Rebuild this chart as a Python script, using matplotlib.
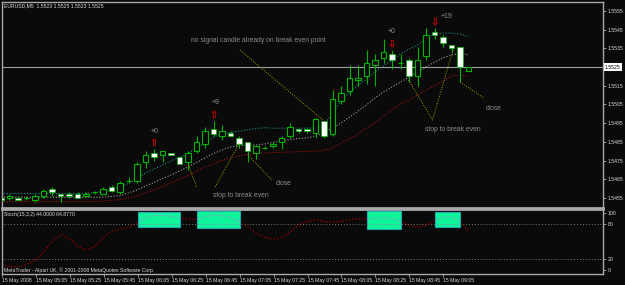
import matplotlib
matplotlib.use("Agg")
import matplotlib.pyplot as plt
from matplotlib.patches import Rectangle
from matplotlib.transforms import blended_transform_factory
import numpy as np

plt.rcParams['font.family'] = ['Liberation Sans', 'DejaVu Sans']

# ---------------- data ----------------
opens = [1.5455, 1.5455, 1.5455, 1.5455, 1.5454, 1.5456, 1.5460, 1.5457, 1.5457, 1.5457,
         1.5456, 1.5458, 1.5457, 1.5461, 1.5458, 1.5464, 1.5464, 1.5474, 1.5479, 1.5478,
         1.5479, 1.5477, 1.5474, 1.5480, 1.5484, 1.5492, 1.5488, 1.5490, 1.5487, 1.5485,
         1.5479, 1.5482, 1.5483, 1.5485, 1.5488, 1.5492, 1.5492, 1.5490, 1.5496, 1.5489,
         1.5507, 1.5512, 1.5518, 1.5520, 1.5526, 1.5530, 1.5532, 1.5527, 1.5529, 1.5520,
         1.5531, 1.5544, 1.5541, 1.5537, 1.5536, 1.5523]
highs = [1.5456, 1.5457, 1.5456, 1.5456, 1.5457, 1.5460, 1.5461, 1.5457, 1.5458, 1.5458,
         1.5458, 1.5459, 1.5461, 1.5462, 1.5464, 1.5466, 1.5474, 1.5480, 1.5481, 1.5480,
         1.5479, 1.5477, 1.5480, 1.5488, 1.5493, 1.5496, 1.5494, 1.5491, 1.5488, 1.5485,
         1.5483, 1.5483, 1.5485, 1.5488, 1.5495, 1.5492, 1.5492, 1.5498, 1.5496, 1.5513,
         1.5515, 1.5526, 1.5526, 1.5534, 1.5532, 1.5540, 1.5534, 1.5532, 1.5530, 1.5536,
         1.5546, 1.5546, 1.5542, 1.5537, 1.5536, 1.5525]
lows = [1.5453, 1.5454, 1.5454, 1.5454, 1.5453, 1.5455, 1.5456, 1.5453, 1.5455, 1.5455,
        1.5456, 1.5457, 1.5457, 1.5458, 1.5457, 1.5463, 1.5463, 1.5471, 1.5475, 1.5474,
        1.5478, 1.5473, 1.5470, 1.5479, 1.5482, 1.5488, 1.5486, 1.5488, 1.5482, 1.5474,
        1.5476, 1.5481, 1.5482, 1.5481, 1.5487, 1.5490, 1.5490, 1.5487, 1.5487, 1.5488,
        1.5505, 1.5510, 1.5515, 1.5516, 1.5515, 1.5527, 1.5524, 1.5524, 1.5517, 1.5515,
        1.5529, 1.5540, 1.5536, 1.5533, 1.5517, 1.5523]
closes = [1.5454, 1.5456, 1.5454, 1.5455, 1.5456, 1.5459, 1.5458, 1.5456, 1.5456, 1.5455,
          1.5457, 1.5458, 1.5460, 1.5459, 1.5463, 1.5464, 1.5473, 1.5478, 1.5477, 1.5480,
          1.5478, 1.5473, 1.5479, 1.5485, 1.5491, 1.5489, 1.5491, 1.5488, 1.5484, 1.5480,
          1.5483, 1.5482, 1.5484, 1.5487, 1.5493, 1.5491, 1.5491, 1.5497, 1.5488, 1.5508,
          1.5511, 1.5519, 1.5519, 1.5527, 1.5529, 1.5533, 1.5529, 1.5527, 1.5520, 1.5529,
          1.5542, 1.5542, 1.5538, 1.5535, 1.5525, 1.5525]

ma_upper = [1.54574] * 10 + [1.54575, 1.54577,
            1.54585, 1.54593, 1.54609, 1.54628, 1.54654, 1.54684, 1.54705, 1.54726,
            1.54748, 1.54769, 1.54789, 1.54815, 1.54844, 1.54876, 1.54892, 1.54901,
            1.54908, 1.54914, 1.54922, 1.54926, 1.54923, 1.54923, 1.54923, 1.54923,
            1.54923, 1.54927, 1.54940, 1.55005, 1.55069, 1.55117, 1.55154, 1.55186,
            1.55224, 1.55256, 1.55288, 1.55320, 1.55347, 1.55368, 1.55400, 1.55427,
            1.55432, 1.55432, 1.55427, 1.55414]
ma_mid = [1.54554] * 12 + [
            1.54555, 1.54558, 1.54563, 1.54577, 1.54593, 1.54614, 1.54633, 1.54654,
            1.54673, 1.54694, 1.54716, 1.54740, 1.54764, 1.54788, 1.54807, 1.54823,
            1.54831, 1.54833, 1.54833, 1.54839, 1.54847, 1.54855, 1.54863, 1.54868,
            1.54871, 1.54882, 1.54898, 1.54924, 1.54951, 1.54983, 1.55015, 1.55047,
            1.55085, 1.55117, 1.55144, 1.55170, 1.55197, 1.55224, 1.55251, 1.55277,
            1.55299, 1.55315, 1.55323, 1.55315]
ma_lower = [1.54531] * 12 + [
            1.54534, 1.54537, 1.54542, 1.54550, 1.54561, 1.54577, 1.54593, 1.54611,
            1.54630, 1.54652, 1.54670, 1.54694, 1.54716, 1.54734, 1.54751, 1.54764,
            1.54775, 1.54783, 1.54788, 1.54791, 1.54793, 1.54794, 1.54796, 1.54798,
            1.54799, 1.54801, 1.54804, 1.54817, 1.54844, 1.54866, 1.54892, 1.54924,
            1.54951, 1.54989, 1.55021, 1.55053, 1.55074, 1.55101, 1.55128, 1.55149,
            1.55176, 1.55202, 1.55208, 1.55200]

stoch = [10, 5, 6, 11, 17, 33, 52, 62, 54, 41, 35, 42, 58, 68, 72, 75, 84, 92, 96, 96,
         94, 91, 89, 89, 94, 96, 95, 92, 84, 75, 64, 57, 54, 57, 67, 80, 85, 88, 85, 84,
         85, 89, 90, 89, 91, 92, 91, 85, 78, 75, 79, 86, 93, 93, 85, 66]

stoch_boxes = [(16, 21, 75.4, 102.3), (23, 28, 74.2, 104.0),
               (43, 47, 71.9, 103.5), (51, 54, 76.0, 102.3)]

time_labels = ["15 May 2008", "15 May 05:05", "15 May 05:25", "15 May 05:45",
               "15 May 06:05", "15 May 06:25", "15 May 06:45", "15 May 07:05",
               "15 May 07:25", "15 May 07:45", "15 May 08:05", "15 May 08:25",
               "15 May 08:45", "15 May 09:05"]
time_ticks = list(range(0, 56, 4))

price_ticks = [1.5455, 1.5465, 1.5475, 1.5485, 1.5495, 1.5505, 1.5515, 1.5535, 1.5545, 1.5555]
bid_price = 1.5525

# signal arrows: (bar, price, glyph), profit labels: (bar, price, text)
arrows = [(18, 1.54846, '\u21e7'), (25, 1.54994, '\u21e7'),
          (46, 1.55377, '\u21e9'), (51, 1.55493, '\u21e9')]
profit_labels = [(18.1, 1.54905, '+0'), (25.2, 1.55058, '+9'),
                 (46.0, 1.55438, '+0'), (52.4, 1.55520, '+19')]

# annotation trend lines (bar, price) sequences
notes_lines = [
    [(22.04, 1.54726), (23.02, 1.54609)],
    [(25.18, 1.54609), (28.06, 1.54844)],
    [(29.06, 1.54780), (31.88, 1.54646)],
    [(28.12, 1.55341), (37.88, 1.54967)],
    [(47.94, 1.55181), (50.76, 1.54967), (53.18, 1.55341)],
    [(54.00, 1.55170), (56.82, 1.55085)],
]
notes_text = [
    (22.3, 1.55391, "no signal candle already on break even point"),
    (24.94, 1.54562, "stop to break even"),
    (32.35, 1.54629, "close"),
    (49.88, 1.54917, "stop to break even"),
    (57.0, 1.55030, "close"),
]

# ---------------- style ----------------
BG = '#0a0a0a'
GREEN = '#00b400'
FRAME = '#a8a8a8'
TXT = '#d8d8d8'
NOTE = '#8c8c8c'
FS = 3.7

fig = plt.figure(figsize=(6.25, 2.85), dpi=100, facecolor=BG)
ax = fig.add_axes([2/625, 1-208/285, 601/625, 206/285], facecolor=BG)
ax2 = fig.add_axes([2/625, 1-274/285, 601/625, 65/285], facecolor=BG)

for a in (ax, ax2):
    for s in a.spines.values():
        s.set_color(FRAME)
        s.set_linewidth(1.0)
    a.set_xlim(0.118, 70.82)
ax.spines['bottom'].set_linewidth(2.0)
ax2.spines['top'].set_linewidth(2.0)

idx = np.arange(len(opens))
o = np.array(opens); h = np.array(highs); l = np.array(lows); c = np.array(closes)

# moving-average lines
dots = (0, (1, 1.6))
ax.plot(idx, ma_upper, color='#1f8c8c', lw=0.8, linestyle=dots, zorder=2)
ax.plot(idx, ma_mid, color='#a0a0a0', lw=0.8, linestyle=dots, zorder=2)
ax.plot(idx, ma_lower, color='#a01010', lw=0.8, linestyle=dots, zorder=2)

# bid line
ax.axhline(bid_price, color='#a0a0a0', lw=0.8, zorder=1)

# candles
ax.vlines(idx, l, h, color=GREEN, lw=0.8, zorder=3)
bull = c >= o
body_bottom = np.minimum(o, c)
body_h = np.abs(c - o)
ax.bar(idx[bull], body_h[bull], bottom=body_bottom[bull], width=0.62,
       color=BG, edgecolor=GREEN, linewidth=0.8, zorder=4)
ax.bar(idx[~bull], body_h[~bull], bottom=body_bottom[~bull], width=0.62,
       color='white', edgecolor=GREEN, linewidth=0.5, zorder=4)

# annotation lines
for seg in notes_lines:
    xs = [p[0] for p in seg]; ys = [p[1] for p in seg]
    ax.plot(xs, ys, color='#a0a000', lw=0.7, linestyle=(0, (1, 1.5)), zorder=5)
for x, y, t in notes_text:
    ax.text(x, y, t, color=NOTE, fontsize=4.9, ha='left', va='center', zorder=6)
for x, y, g in arrows:
    ax.text(x, y, g, color='#e00000', fontsize=7.5, ha='center', va='center',
            family='DejaVu Sans', fontweight='bold', zorder=6)
for x, y, t in profit_labels:
    ax.text(x, y, t, color=NOTE, fontsize=5, ha='center', va='center', zorder=6)

ax.set_ylim(1.544965, 1.555981)
ax.set_xticks([])
ax.yaxis.tick_right()
ax.set_yticks(price_ticks)
ax.set_yticklabels([f"{p:.4f}" for p in price_ticks])
ax.tick_params(axis='y', colors=TXT, labelsize=FS, length=2, pad=1.5, width=0.6)
ax.tick_params(axis='y', color=FRAME)

tr = blended_transform_factory(ax.transAxes, ax.transData)
ax.text(1.003, bid_price, f"{bid_price:.4f}", transform=tr, ha='left', va='center',
        fontsize=FS, color='black', clip_on=False,
        bbox=dict(boxstyle='square,pad=0.25', fc='white', ec='none'))

ax.text(0.003, 0.982, "EURUSD,M5  1.5523 1.5525 1.5523 1.5525", transform=ax.transAxes,
        color=TXT, fontsize=FS, ha='left', va='center')

# ---------------- stochastic panel ----------------
ax2.set_ylim(-7, 107)
for lev in (80, 20):
    ax2.axhline(lev, color='#7a7a7a', lw=0.7, linestyle=(0, (1, 2)), zorder=1)
ax2.plot(idx, stoch, color='#a00000', lw=0.9, linestyle=dots, zorder=2)
for x0, x1, y0, y1 in stoch_boxes:
    r = Rectangle((x0, y0), x1 - x0, y1 - y0, facecolor='#10f59c', edgecolor='#20a8b0',
                  lw=0.8, zorder=3)
    ax2.add_patch(r)
    ln, = ax2.plot(idx, stoch, color='#a080d0', lw=0.8, linestyle=dots, zorder=4)
    ln.set_clip_path(r)
    lv = ax2.axhline(80, color='#8080a0', lw=0.7, linestyle=(0, (1, 2)), zorder=4)
    lv.set_clip_path(r)

ax2.yaxis.tick_right()
ax2.set_yticks([0, 20, 80, 100])
ax2.set_yticklabels(['0', '20', '80', '100'])
ax2.tick_params(axis='y', colors=TXT, labelsize=FS, length=2, pad=1.5, width=0.6)
ax2.tick_params(axis='y', color=FRAME)
ax2.set_xticks(time_ticks)
ax2.set_xticklabels(time_labels, ha='left')
ax2.tick_params(axis='x', colors=TXT, labelsize=FS, length=2, pad=1, width=0.6)
ax2.tick_params(axis='x', color=FRAME)

ax2.text(0.004, 0.92, "Stoch(15,3,2) 44.0000 64.8770", transform=ax2.transAxes,
         color=TXT, fontsize=FS, ha='left', va='center')
ax2.text(0.003, 0.02, "MetaTrader - Alpari UK, \u00a9 2001-2008 MetaQuotes Software Corp.",
         transform=ax2.transAxes, color=TXT, fontsize=FS, ha='left', va='bottom')

fig.savefig("out.png", dpi=100, facecolor=BG)
